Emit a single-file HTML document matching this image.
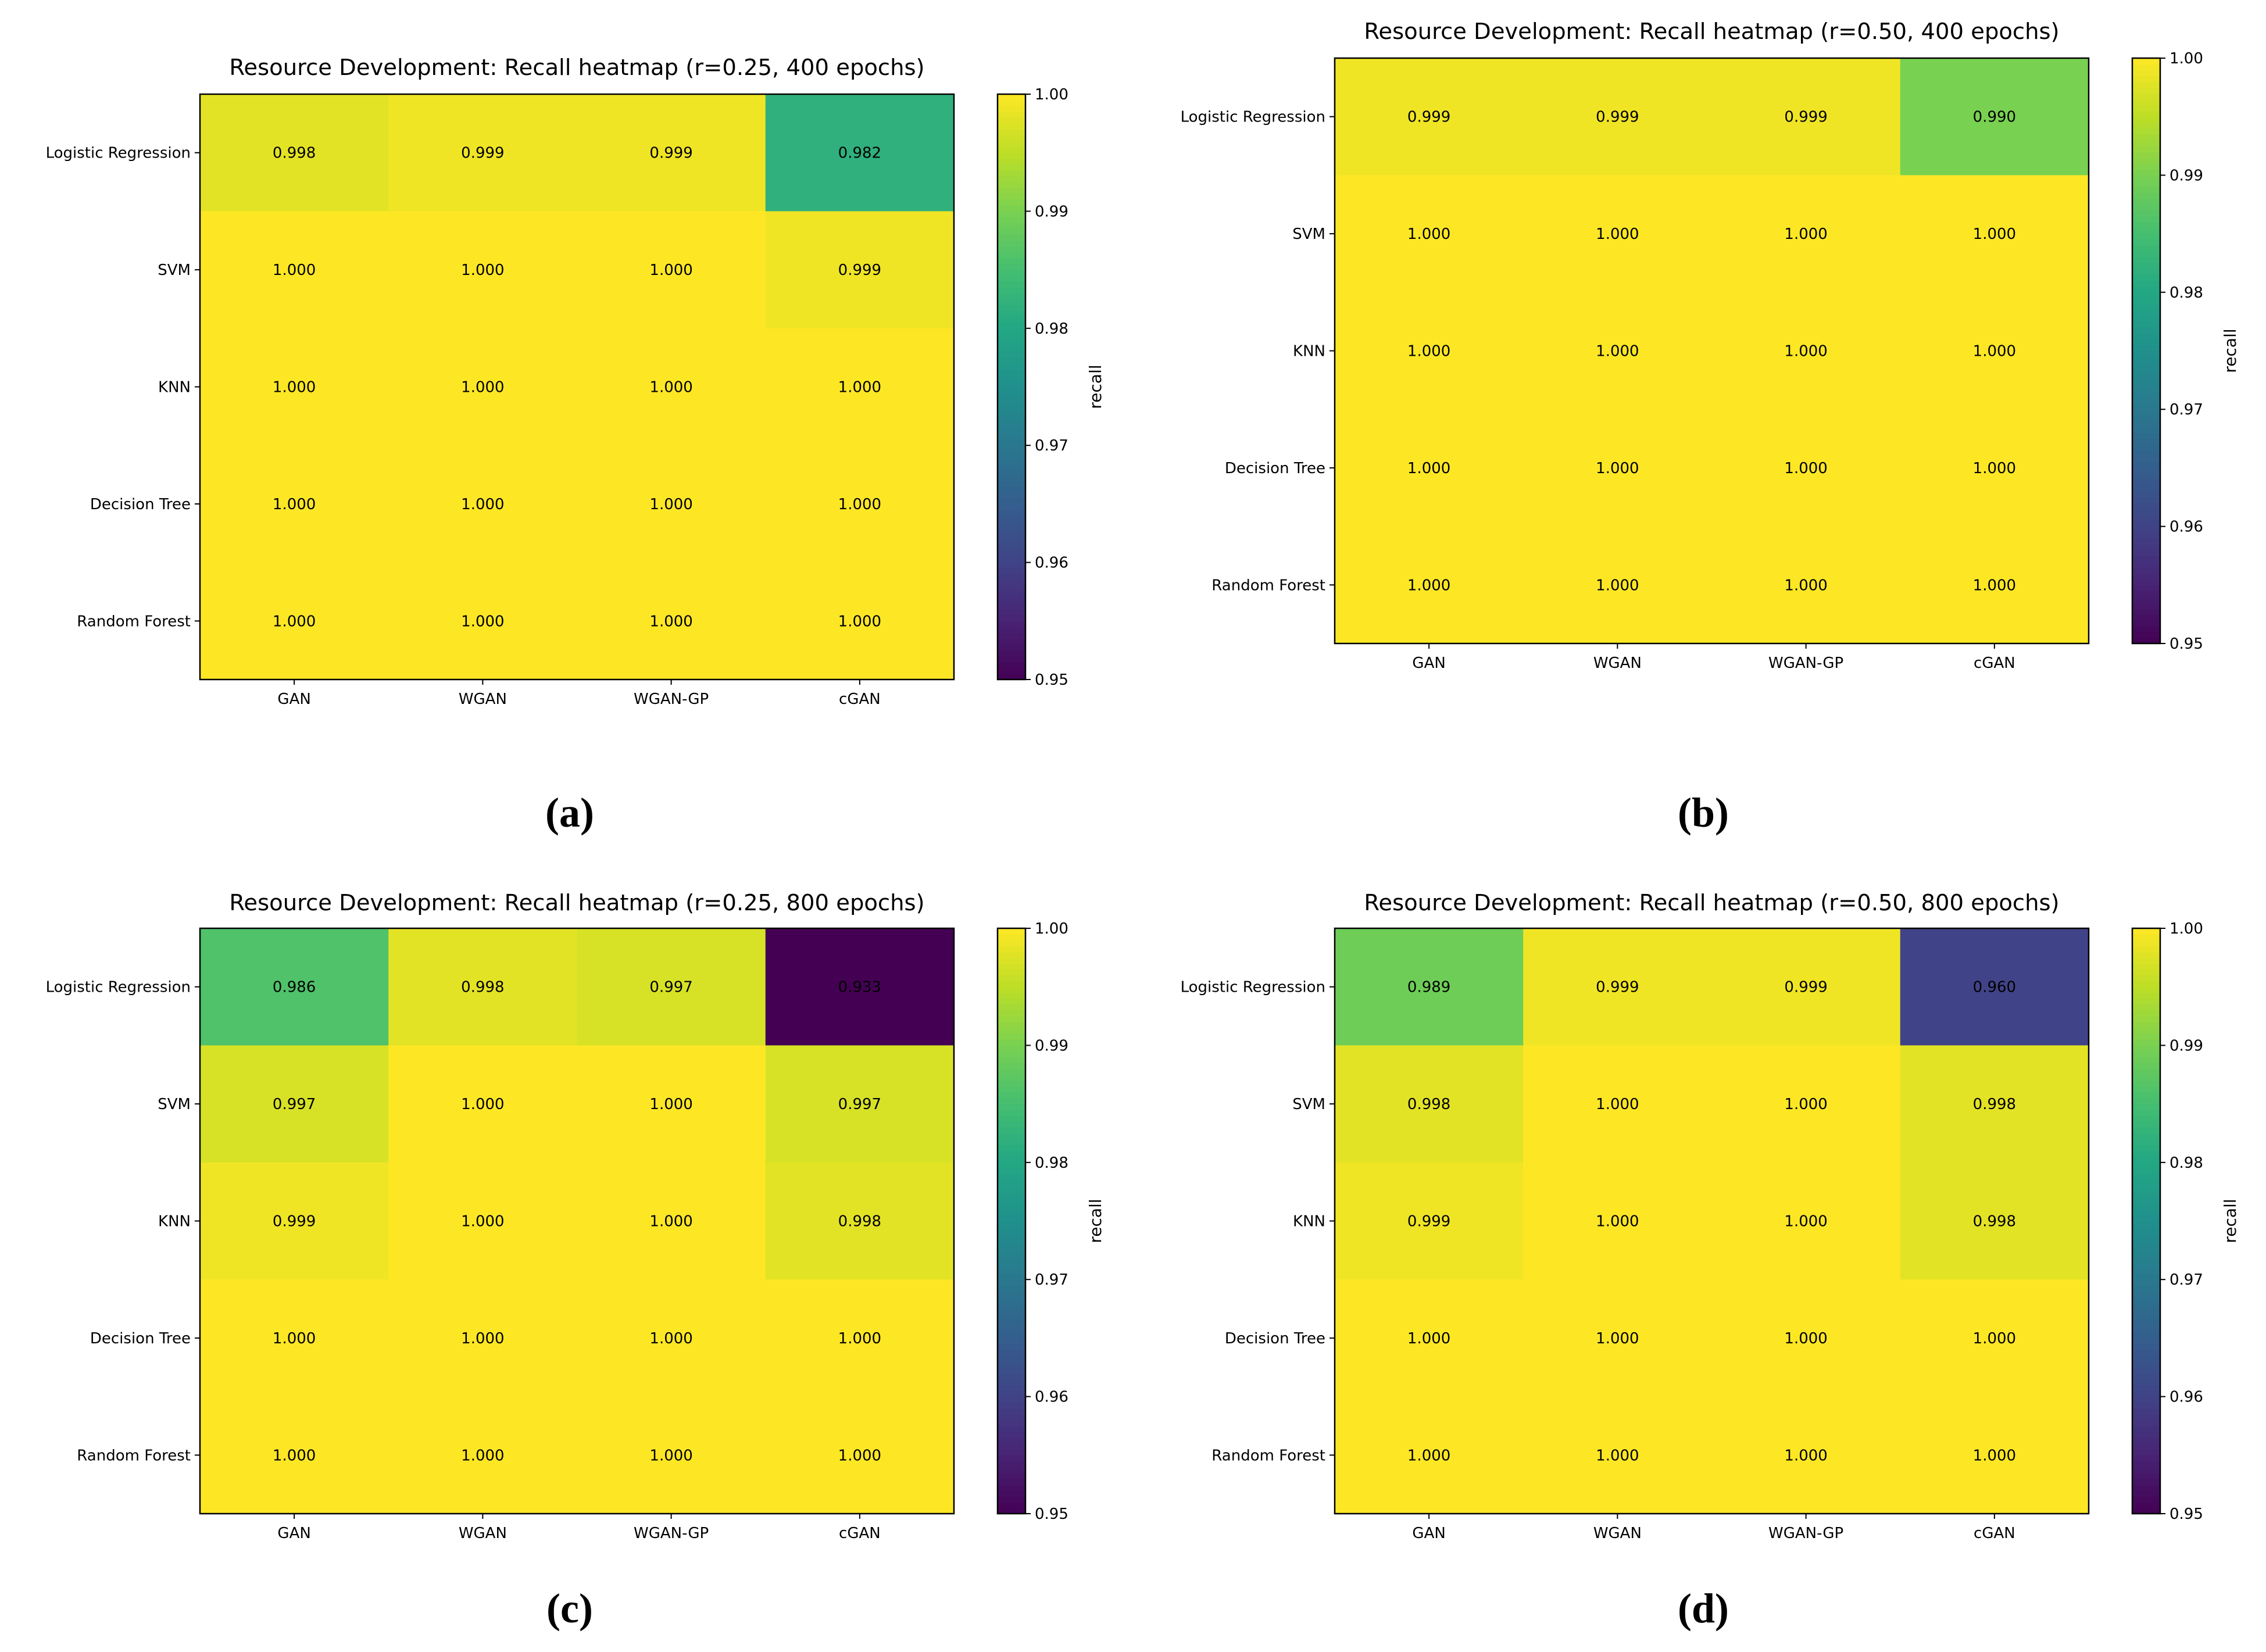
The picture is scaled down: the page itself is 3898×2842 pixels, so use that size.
<!DOCTYPE html>
<html><head><meta charset="utf-8">
<style>
html,body{margin:0;padding:0;background:#fff;}
svg{display:block;font-family:"DejaVu Sans","Liberation Sans",sans-serif;}
</style></head>
<body>
<svg id="fig" width="3898" height="2842" viewBox="0 0 3898 2842" xmlns="http://www.w3.org/2000/svg"></svg>
<script>
const models = ["GAN","WGAN","WGAN-GP","cGAN"];
const classifiers = ["Logistic Regression","SVM","KNN","Decision Tree","Random Forest"];
const cbTicks = [0.95,0.96,0.97,0.98,0.99,1.00];
const valuesA = [[0.998,0.999,0.999,0.982],[1,1,1,0.999],[1,1,1,1],[1,1,1,1],[1,1,1,1]];
const valuesB = [[0.999,0.999,0.999,0.990],[1,1,1,1],[1,1,1,1],[1,1,1,1],[1,1,1,1]];
const valuesC = [[0.986,0.998,0.997,0.933],[0.997,1,1,0.997],[0.999,1,1,0.998],[1,1,1,1],[1,1,1,1]];
const valuesD = [[0.989,0.999,0.999,0.960],[0.998,1,1,0.998],[0.999,1,1,0.998],[1,1,1,1],[1,1,1,1]];
const titles = ["Resource Development: Recall heatmap (r=0.25, 400 epochs)","Resource Development: Recall heatmap (r=0.50, 400 epochs)","Resource Development: Recall heatmap (r=0.25, 800 epochs)","Resource Development: Recall heatmap (r=0.50, 800 epochs)"];
const captions = ["(a)","(b)","(c)","(d)"];

const VIR = [[68,1,84],[72,35,116],[64,67,135],[52,94,141],[41,120,142],[32,144,140],[34,167,132],[68,190,112],[121,209,81],[189,222,38],[253,231,37]];
function viridis(t){t=Math.max(0,Math.min(1,t));const p=t*(VIR.length-1);const i=Math.min(Math.floor(p),VIR.length-2);const f=p-i;
 const c=VIR[i].map((v,k)=>Math.round(v+(VIR[i+1][k]-v)*f));return `rgb(${c[0]},${c[1]},${c[2]})`;}
const vmin=0.95,vmax=1.0;
const svg=document.getElementById('fig');
const NS="http://www.w3.org/2000/svg";
function mk(tag,attrs,parent){const e=document.createElementNS(NS,tag);for(const k in attrs)e.setAttribute(k,attrs[k]);(parent||svg).appendChild(e);return e;}

const panels=[
 {data:valuesA,x:344,y:162,cbx:1716,titleY:116,capX:980,capY:1422},
 {data:valuesB,x:2296,y:100,cbx:3668,titleY:54,capX:2930,capY:1422},
 {data:valuesC,x:344,y:1597,cbx:1716,titleY:1553,capX:980,capY:2791},
 {data:valuesD,x:2296,y:1597,cbx:3668,titleY:1553,capX:2930,capY:2791}
];
const W=1297,H=1007,cbW=48;
panels.forEach((p,pi)=>{
 const g=mk('g',{});
 
 
 const cw=W/models.length, ch=H/classifiers.length;
 const xScale=j=>p.x+j*cw, yScale=i=>p.y+i*ch;
 const colorScale=v=>viridis((v-vmin)/(vmax-vmin));
 p.data.forEach((row,i)=>row.forEach((v,j)=>{
  const r=mk('rect',{x:xScale(j),y:yScale(i),width:cw+0.5,height:ch+0.5,fill:colorScale(v)},g);
  
  
  const t=mk('text',{x:xScale(j)+cw/2,y:yScale(i)+ch/2+9,'text-anchor':'middle','font-size':26,fill:'#000'},g);
  
  
  t.textContent=v.toFixed(3);
 }));
 mk('rect',{x:p.x,y:p.y,width:W,height:H,fill:'none',stroke:'#000','stroke-width':2.5},g);
 const tt=mk('text',{x:p.x+W/2,y:p.titleY+13,'text-anchor':'middle','font-size':38.5,fill:'#000'},g);
 
 
 tt.textContent=titles[pi];
 classifiers.forEach((c,i)=>{
  const yy=yScale(i)+ch/2;
  mk('line',{x1:p.x-9,x2:p.x,y1:yy,y2:yy,stroke:'#000','stroke-width':2},g);
  const t=mk('text',{x:p.x-16,y:yy+9,'text-anchor':'end','font-size':26,fill:'#000'},g);
  
  
  t.textContent=c;
 });
 models.forEach((m,j)=>{
  const xx=xScale(j)+cw/2;
  mk('line',{x1:xx,x2:xx,y1:p.y+H,y2:p.y+H+9,stroke:'#000','stroke-width':2},g);
  const t=mk('text',{x:xx,y:p.y+H+42,'text-anchor':'middle','font-size':26,fill:'#000'},g);
  
  
  t.textContent=m;
 });
 const cbScale=v=>p.y+H-(v-vmin)/(vmax-vmin)*H;
 const n=100;
 for(let k=0;k<n;k++){
  const v0=vmin+(vmax-vmin)*k/n, v1=vmin+(vmax-vmin)*(k+1)/n;
  mk('rect',{x:p.cbx,y:cbScale(v1),width:cbW,height:cbScale(v0)-cbScale(v1)+0.6,fill:colorScale((v0+v1)/2)},g);
 }
 const cbr=mk('rect',{x:p.cbx,y:p.y,width:cbW,height:H,fill:'none',stroke:'#000','stroke-width':2.5},g);
 
 
 cbTicks.forEach(v=>{
  const yy=cbScale(v);
  mk('line',{x1:p.cbx+cbW,x2:p.cbx+cbW+9,y1:yy,y2:yy,stroke:'#000','stroke-width':2},g);
  const t=mk('text',{x:p.cbx+cbW+16,y:yy+9,'font-size':26,fill:'#000'},g);
  
  
  t.textContent=v.toFixed(2);
 });
 const rl=mk('text',{x:0,y:0,'text-anchor':'middle','font-size':28,fill:'#000',transform:`translate(${p.cbx+cbW+130},${p.y+H/2}) rotate(-90)`},g);
 
 
 rl.textContent='recall';
 const cap=mk('text',{x:p.capX,y:p.capY,'text-anchor':'middle','font-size':72,'font-weight':'bold','font-family':'"Liberation Serif",serif',fill:'#000'},g);
 
 
 cap.textContent=captions[pi];
});
</script>
</body></html>
